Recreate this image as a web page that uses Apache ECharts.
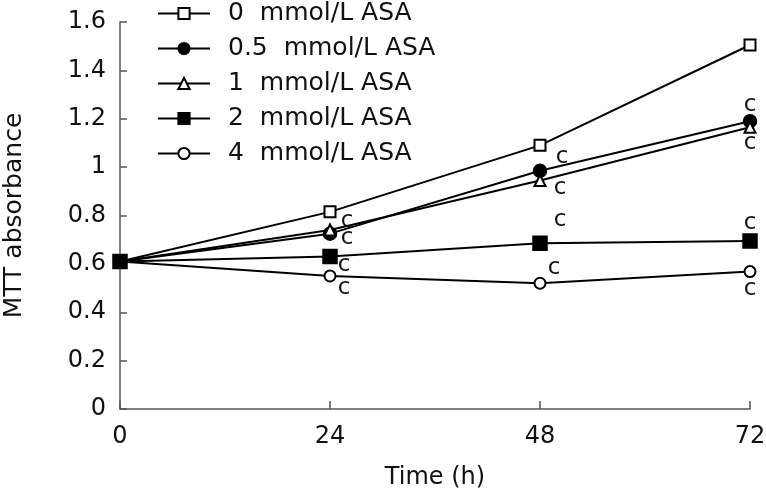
<!DOCTYPE html>
<html><head><meta charset="utf-8">
<script src="https://cdn.jsdelivr.net/npm/echarts@6/dist/echarts.min.js"></script>
<style>html,body{margin:0;padding:0;background:#fff}#c{width:766px;height:495px}</style>
</head><body><div id="c"></div>
<script>
const times = [0, 24, 48, 72];
const seriesNames = ['0  mmol/L ASA', '0.5  mmol/L ASA', '1  mmol/L ASA', '2  mmol/L ASA', '4  mmol/L ASA'];
const v0   = [0.61, 0.815, 1.09, 1.505];
const v05  = [0.61, 0.725, 0.985, 1.19];
const v1   = [0.61, 0.74, 0.945, 1.165];
const v2   = [0.61, 0.63, 0.685, 0.695];
const v4   = [0.61, 0.55, 0.52, 0.568];
const sig0  = ['', '', '', ''];
const sig05 = ['', 'c', 'c', 'c'];
const sig1  = ['', 'c', 'c', 'c'];
const sig2  = ['', 'c', 'c', 'c'];
const sig4  = ['', 'c', 'c', 'c'];
const yTicks = [0, 0.2, 0.4, 0.6, 0.8, 1, 1.2, 1.4, 1.6];

const FONT = 'DejaVu Sans, Verdana, sans-serif';
const values = [v0, v05, v1, v2, v4];
const sigs = [sig0, sig05, sig1, sig2, sig4];
const symbols = ['emptyRect', 'circle', 'emptyTriangle', 'rect', 'emptyCircle'];
const sizes = [11, 13, 11, 14, 11];
// label offsets [dx, dy] per series per point (style only)
const offs = [
  [[0,0],[0,0],[0,0],[0,0]],
  [[0,0],[17,-13],[22,-14],[0,-16]],
  [[0,0],[17,8],[20,8],[0,16]],
  [[0,0],[14,8],[20,-23],[0,-18]],
  [[0,0],[14,12],[14,-15],[0,17]]
];

const series = values.map((vals, si) => ({
  name: seriesNames[si],
  type: 'line',
  symbol: symbols[si],
  symbolSize: sizes[si],
  z: si === 3 ? 5 : 2,
  lineStyle: { color: '#000', width: 2 },
  itemStyle: { color: '#000', borderColor: '#000', borderWidth: 1.5 },
  data: vals.map((v, i) => ({
    value: [times[i], v],
    label: {
      show: sigs[si][i] !== '',
      formatter: sigs[si][i],
      position: 'inside',
      offset: offs[si][i],
      color: '#111',
      fontSize: 23,
      fontFamily: FONT
    }
  }))
}));

const chart = echarts.init(document.getElementById('c'));
chart.setOption({
  animation: false,
  backgroundColor: '#fff',
  textStyle: { fontFamily: FONT },
  grid: { left: 120, right: 16, top: 22, bottom: 86, containLabel: false, outerBoundsMode: 'none' },
  legend: {
    orient: 'vertical',
    left: 157,
    top: 1,
    padding: 0,
    itemWidth: 52,
    itemHeight: 14,
    itemGap: 10,
    data: seriesNames,
    textStyle: { fontSize: 25, color: '#111', fontFamily: FONT, padding: [0, 0, 0, 13] }
  },
  xAxis: {
    type: 'value', min: 0, max: 72, interval: 24,
    name: 'Time (h)', nameLocation: 'middle', nameGap: 57,
    nameTextStyle: { fontSize: 24, color: '#111', fontFamily: FONT },
    axisLine: { lineStyle: { color: '#555', width: 1.5 } },
    axisTick: { inside: true, length: 8, lineStyle: { color: '#555', width: 1.5 } },
    axisLabel: { fontSize: 24, color: '#111', margin: 16, fontFamily: FONT },
    splitLine: { show: false }
  },
  yAxis: {
    type: 'value', min: 0, max: 1.6, interval: 0.2,
    name: 'MTT absorbance', nameLocation: 'middle', nameGap: 93,
    nameTextStyle: { fontSize: 25, color: '#111', fontFamily: FONT },
    axisLine: { show: true, lineStyle: { color: '#555', width: 1.5 } },
    axisTick: { show: true, inside: true, length: 7, lineStyle: { color: '#555', width: 1.5 } },
    axisLabel: { fontSize: 24, color: '#111', margin: 14, fontFamily: FONT,
      formatter: v => { const t = yTicks.find(x => Math.abs(x - v) < 1e-6); return t === undefined ? '' : String(t); } },
    splitLine: { show: false }
  },
  series: series
});
</script></body></html>
